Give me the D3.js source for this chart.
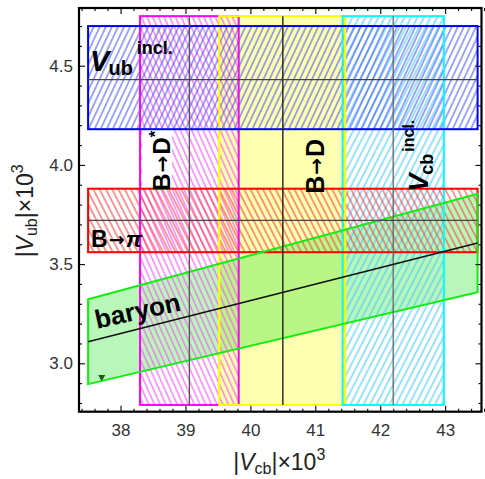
<!DOCTYPE html>
<html>
<head>
<meta charset="utf-8">
<script src="https://cdn.jsdelivr.net/npm/d3@7"></script>
<style>
  body { margin: 0; background: #fff; }
  svg { display: block; }
  text { font-family: "Liberation Sans", Arial, sans-serif; }
</style>
</head>
<body>
<svg id="chart" width="485" height="479"></svg>
<script>
// |Vcb| determinations (x10^3), drawn as vertical bands
const vcbNames = ["B→D*", "B→D", "Vcb incl."];
const vcbLow = [38.30, 39.52, 41.42];
const vcbCentral = [39.06, 40.50, 42.20];
const vcbHigh = [39.82, 41.46, 42.98];
const vcbSpan = [2.79, 4.75];      // |Vub| extent of the vertical bands

// |Vub| determinations (x10^3), drawn as horizontal bands
const vubNames = ["Vub incl.", "B→π"];
const vubLow = [4.18, 3.56];
const vubCentral = [4.43, 3.72];
const vubHigh = [4.70, 3.88];
const vubSpan = [37.5, 43.5];      // |Vcb| extent of the horizontal bands

// Baryon constraint on |Vub/Vcb|: low, central, high
const baryonRatio = [0.0772, 0.0829, 0.0886];
const baryonSpan = [37.5, 43.5];
const baryonMarker = [37.71, 2.93];

// Axes
const xDomain = [37.36, 43.56];
const yDomain = [2.756, 4.791];
const xTicks = [38, 39, 40, 41, 42, 43];
const yTicks = [3.0, 3.5, 4.0, 4.5];

const W = 485, H = 479;
const margin = { left: 79, right: 3.5, top: 8, bottom: 67.3 };

const svg = d3.select("#chart");
const x = d3.scaleLinear().domain(xDomain).range([margin.left, W - margin.right]);
const y = d3.scaleLinear().domain(yDomain).range([H - margin.bottom, margin.top]);

const frameBottom = y(yDomain[0]), frameTop = y(yDomain[1]);
const frameLeft = x(xDomain[0]), frameRight = x(xDomain[1]);

const defs = svg.append("defs");
defs.append("clipPath").attr("id", "plot-clip")
  .append("rect")
  .attr("x", frameLeft).attr("y", frameTop)
  .attr("width", frameRight - frameLeft)
  .attr("height", frameBottom - frameTop);

// diagonal hatch patterns
function hatch(id, color, angle, gap, width) {
  const p = defs.append("pattern")
    .attr("id", id)
    .attr("patternUnits", "userSpaceOnUse")
    .attr("width", gap).attr("height", 20)
    .attr("patternTransform", `rotate(${angle})`);
  p.append("line")
    .attr("x1", gap / 2).attr("x2", gap / 2)
    .attr("y1", -1).attr("y2", 21)
    .attr("stroke", color).attr("stroke-width", width);
  return `url(#${id})`;
}

const vcbStyle = [
  { stroke: "#ff00ff", fill: hatch("h-bdstar", "#ff55ff", -24, 5.2, 1.1), line: "#555" },
  { stroke: "#ffff00", fill: "rgba(255,255,0,0.30)", line: "#111" },
  { stroke: "#00ffff", fill: hatch("h-vcbincl", "#44ccff", 27, 5.8, 1.1), line: "#666" }
];
const vubStyle = [
  { stroke: "#0000ff", fill: hatch("h-vubincl", "#4050ff", 25, 5.5, 1.0), line: "#444" },
  { stroke: "#ff0000", fill: hatch("h-bpi", "#ff4444", -27, 5.6, 1.1), line: "#444" }
];

const plot = svg.append("g").attr("clip-path", "url(#plot-clip)");

function vcbRect(sel, i) {
  return sel.attr("x", x(vcbLow[i])).attr("width", x(vcbHigh[i]) - x(vcbLow[i]))
    .attr("y", y(vcbSpan[1])).attr("height", y(vcbSpan[0]) - y(vcbSpan[1]));
}
function vubRect(sel, i) {
  return sel.attr("x", x(vubSpan[0])).attr("width", x(vubSpan[1]) - x(vubSpan[0]))
    .attr("y", y(vubHigh[i])).attr("height", y(vubLow[i]) - y(vubHigh[i]));
}

// baryon band: region between two lines through the origin
const baryonPoly = [
  [baryonSpan[0], baryonRatio[0] * baryonSpan[0]],
  [baryonSpan[1], baryonRatio[0] * baryonSpan[1]],
  [baryonSpan[1], baryonRatio[2] * baryonSpan[1]],
  [baryonSpan[0], baryonRatio[2] * baryonSpan[0]]
];
const polyLine = d3.line().x(d => x(d[0])).y(d => y(d[1]));

// fills
vcbRect(plot.append("rect"), 1).attr("fill", vcbStyle[1].fill);
plot.append("path").attr("d", polyLine(baryonPoly) + "Z")
  .attr("fill", "rgba(50,228,50,0.34)");
[0, 2].forEach(i => vcbRect(plot.append("rect"), i).attr("fill", vcbStyle[i].fill));

// white backing for the B→D* label
plot.append("rect")
  .attr("x", x(vcbLow[0]) + 2).attr("width", 30)
  .attr("y", y(vubLow[0])).attr("height", y(vubHigh[1]) - y(vubLow[0]))
  .attr("fill", "#fff");

[0, 1].forEach(i => vubRect(plot.append("rect"), i).attr("fill", vubStyle[i].fill));

// outlines
[0, 1, 2].forEach(i => vcbRect(plot.append("rect"), i)
  .attr("fill", "none").attr("stroke", vcbStyle[i].stroke).attr("stroke-width", 2));
[0, 1].forEach(i => vubRect(plot.append("rect"), i)
  .attr("fill", "none").attr("stroke", vubStyle[i].stroke).attr("stroke-width", 2));
plot.append("path").attr("d", polyLine(baryonPoly) + "Z")
  .attr("fill", "none").attr("stroke", "#11ee11").attr("stroke-width", 2);

// central values
vcbCentral.forEach((v, i) => plot.append("line")
  .attr("x1", x(v)).attr("x2", x(v))
  .attr("y1", y(vcbSpan[0])).attr("y2", y(vcbSpan[1]))
  .attr("stroke", vcbStyle[i].line).attr("stroke-width", 1.3));
vubCentral.forEach((v, i) => plot.append("line")
  .attr("x1", x(vubSpan[0])).attr("x2", x(vubSpan[1]))
  .attr("y1", y(v)).attr("y2", y(v))
  .attr("stroke", vubStyle[i].line).attr("stroke-width", 1.3));
plot.append("line")
  .attr("x1", x(baryonSpan[0])).attr("y1", y(baryonRatio[1] * baryonSpan[0]))
  .attr("x2", x(baryonSpan[1])).attr("y2", y(baryonRatio[1] * baryonSpan[1]))
  .attr("stroke", "#111").attr("stroke-width", 1.6);

plot.append("path")
  .attr("d", d3.symbol(d3.symbolTriangle, 22)())
  .attr("transform", `translate(${x(baryonMarker[0])},${y(baryonMarker[1])}) rotate(180)`)
  .attr("fill", "#1a5a1a");

// band labels
const lab = svg.append("g").attr("font-weight", "bold").attr("fill", "#000");

// "B→" with a heavier arrow glyph
function arrowB(t, arrowSize) {
  t.append("tspan").text("B");
  t.append("tspan").attr("font-family", "'DejaVu Sans', sans-serif")
    .attr("font-size", arrowSize).attr("dx", 1).attr("dy", -1).text("→");
  return t;
}

const vubLab = lab.append("text")
  .attr("x", x(vubSpan[0]) + 2).attr("y", y(vubCentral[0]) - 9);
vubLab.append("tspan").attr("font-style", "italic").attr("font-size", 29).text("V");
vubLab.append("tspan").attr("font-size", 20).attr("dx", -1).attr("dy", 4).text("ub");
vubLab.append("tspan").attr("font-size", 18).attr("dx", 4).attr("dy", -21).text("incl.");

const bpi = lab.append("text")
  .attr("x", x(vubSpan[0]) + 3).attr("y", y(vubCentral[1]) + 27)
  .attr("font-size", 23);
arrowB(bpi, 19);
bpi.append("tspan").attr("font-style", "italic").attr("dx", 1).attr("dy", 1).text("π");

function rotated(xp, yp) {
  return lab.append("text").attr("transform", `translate(${xp},${yp}) rotate(-90)`);
}
const bdstar = rotated(x(vcbLow[0]) + 30, y(vubHigh[1]) + 2).attr("font-size", 24);
arrowB(bdstar, 20);
bdstar.append("tspan").attr("dx", 1).attr("dy", 1).text("D");
bdstar.append("tspan").attr("font-size", 17).attr("dy", -9).text("*");

const bd = rotated(x(vcbCentral[1]) + 41, y(vubHigh[1]) + 5).attr("font-size", 25);
arrowB(bd, 20);
bd.append("tspan").attr("dx", 1).attr("dy", 1).text("D");

const vcbLab = rotated(x(vcbCentral[2]) + 35, y(vubHigh[1]) + 3);
vcbLab.append("tspan").attr("font-style", "italic").attr("font-size", 27).text("V");
vcbLab.append("tspan").attr("font-size", 18).attr("dx", -1).attr("dy", 5).text("cb");
vcbLab.append("tspan").attr("font-size", 16).attr("dx", 2).attr("dy", -19).text("incl.");

const slope = (y(baryonRatio[1] * baryonSpan[1]) - y(baryonRatio[1] * baryonSpan[0])) /
              (x(baryonSpan[1]) - x(baryonSpan[0]));
lab.append("text")
  .attr("transform", `translate(${x(baryonSpan[0]) + 9},${y(baryonRatio[1] * baryonSpan[0]) - 13}) rotate(${Math.atan(slope) * 180 / Math.PI * 0.86})`)
  .attr("font-size", 26).text("baryon");

// frame ticks
const tickFont = g => g.selectAll("text")
  .attr("font-family", "'Liberation Sans', Arial, sans-serif")
  .attr("font-size", 17).attr("fill", "#333");
const minorX = d3.range(37.4, 43.6, 0.2).filter(v => !xTicks.some(t => Math.abs(t - v) < 1e-6));
const minorY = d3.range(2.8, 4.8, 0.1).filter(v => !yTicks.some(t => Math.abs(t - v) < 1e-6));

function ticks(axis, tr, values, size, labels) {
  const g = svg.append("g").attr("transform", tr)
    .call(axis.tickValues(values).tickSize(-size).tickPadding(labels ? 12 : 0)
      .tickFormat(labels ? labels : () => ""));
  g.select(".domain").remove();
  g.selectAll("line").attr("stroke", "#000").attr("stroke-width", 1.1);
  tickFont(g);
  return g;
}
ticks(d3.axisBottom(x), `translate(0,${frameBottom})`, xTicks, 6, d3.format("d"));
ticks(d3.axisBottom(x), `translate(0,${frameBottom})`, minorX, 3, null);
ticks(d3.axisTop(x), `translate(0,${frameTop})`, xTicks, 6, null);
ticks(d3.axisTop(x), `translate(0,${frameTop})`, minorX, 3, null);
ticks(d3.axisLeft(y), `translate(${frameLeft},0)`, yTicks, 6, d3.format(".1f")).selectAll("text").attr("dx", 6);
ticks(d3.axisLeft(y), `translate(${frameLeft},0)`, minorY, 3, null);
ticks(d3.axisRight(y), `translate(${frameRight},0)`, yTicks, 6, null);
ticks(d3.axisRight(y), `translate(${frameRight},0)`, minorY, 3, null);

svg.append("rect")
  .attr("x", frameLeft).attr("y", frameTop)
  .attr("width", frameRight - frameLeft).attr("height", frameBottom - frameTop)
  .attr("fill", "none").attr("stroke", "#000").attr("stroke-width", 2.2);

// axis titles
const xt = svg.append("text")
  .attr("x", (frameLeft + frameRight) / 2 - 1).attr("y", H - 9)
  .attr("text-anchor", "middle").attr("font-size", 23).attr("fill", "#222");
xt.append("tspan").text("|");
xt.append("tspan").attr("font-style", "italic").text("V");
xt.append("tspan").attr("font-size", 16).attr("dy", 4).text("cb");
xt.append("tspan").attr("dy", -4).text("|×10");
xt.append("tspan").attr("font-size", 16).attr("dy", -10).text("3");

const yt = svg.append("text")
  .attr("transform", `translate(33,${(frameTop + frameBottom) / 2 + 1}) rotate(-90)`)
  .attr("text-anchor", "middle").attr("font-size", 23).attr("fill", "#222");
yt.append("tspan").text("|");
yt.append("tspan").attr("font-style", "italic").text("V");
yt.append("tspan").attr("font-size", 16).attr("dy", 4).text("ub");
yt.append("tspan").attr("dy", -4).text("|×10");
yt.append("tspan").attr("font-size", 16).attr("dy", -10).text("3");
</script>
</body>
</html>
